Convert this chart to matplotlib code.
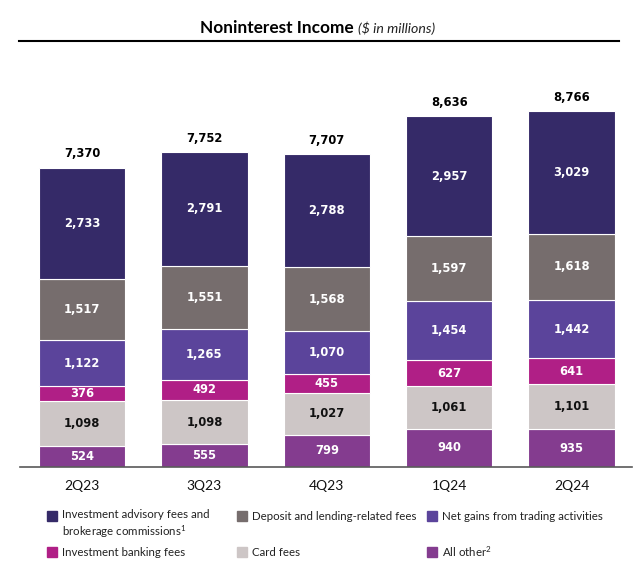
#!/usr/bin/env python3

import matplotlib.pyplot as plt
from matplotlib.lines import Line2D
from matplotlib.patches import Rectangle
import numpy as np

quarters = ["2Q23", "3Q23", "4Q23", "1Q24", "2Q24"]

# stacked bottom -> top
all_other = [524, 555, 799, 940, 935]
card_fees = [1098, 1098, 1027, 1061, 1101]
ib_fees = [376, 492, 455, 627, 641]
trading = [1122, 1265, 1070, 1454, 1442]
deposit = [1517, 1551, 1568, 1597, 1618]
advisory = [2733, 2791, 2788, 2957, 3029]
totals = [7370, 7752, 7707, 8636, 8766]

series = [all_other, card_fees, ib_fees, trading, deposit, advisory]
colors = ["#843c8f", "#cdc6c6", "#b01f86", "#5b449b", "#766d6d", "#352a68"]
text_colors = ["white", "#111111", "white", "white", "white", "white"]

plt.rcParams["mathtext.fontset"] = "custom"
plt.rcParams["mathtext.rm"] = "Lato"
plt.rcParams["mathtext.it"] = "Lato:italic"
plt.rcParams["mathtext.bf"] = "Lato:bold"

NUM_FONT = "DejaVu Sans"
TXT_FONT = "Lato"

fig = plt.figure(figsize=(6.4, 5.7), dpi=100)
ax = fig.add_axes([20 / 640, (570 - 467) / 570, 612 / 640, 407 / 570])

x = np.arange(len(quarters))
bottom = np.zeros(len(quarters))
for vals, color, tcol in zip(series, colors, text_colors):
    vals = np.array(vals)
    ax.bar(x, vals, width=0.707, bottom=bottom, color=color,
           edgecolor="white", linewidth=0.8)
    for xi, b, v in zip(x, bottom, vals):
        ax.text(xi, b + v / 2, f"{v:,}", ha="center", va="center",
                color=tcol, fontsize=8.3, fontweight="bold", family=NUM_FONT)
    bottom += vals

for xi, t in zip(x, totals):
    ax.annotate(f"{t:,}", (xi, t), xytext=(0, 10), textcoords="offset points",
                ha="center", va="center", fontsize=8.3, fontweight="bold",
                family=NUM_FONT, color="black")

ax.set_xlim(-0.5065, 4.494)
ax.set_ylim(0, 10025)
for s in ["top", "right", "left"]:
    ax.spines[s].set_visible(False)
ax.spines["bottom"].set_color("#595959")
ax.spines["bottom"].set_linewidth(1.2)
ax.set_yticks([])
ax.set_xticks(x)
ax.set_xticklabels(quarters, fontsize=10, family=TXT_FONT, color="#111111")
ax.tick_params(axis="x", length=0, pad=9)

# title
fig.text(200 / 640, (570 - 33) / 570, "Noninterest Income", fontsize=12.4,
         fontweight="bold", family=TXT_FONT, va="baseline", ha="left")
fig.text(358 / 640, (570 - 33) / 570, "($ in millions)", fontsize=10.2,
         style="italic", family=TXT_FONT, va="baseline", ha="left", color="#222222")
fig.add_artist(Line2D([19 / 640, 619 / 640], [(570 - 40.5) / 570] * 2,
                      transform=fig.transFigure, color="black", lw=1.5))

# legend
legend_items = [
    ("Investment advisory fees and\nbrokerage commissions$^{1}$", colors[5], 47, 516),
    ("Deposit and lending-related fees", colors[4], 237, 516),
    ("Net gains from trading activities", colors[3], 427, 516),
    ("Investment banking fees", colors[2], 47, 552),
    ("Card fees", colors[1], 237, 552),
    ("All other$^{2}$", colors[0], 427, 552),
]
for label, color, px, py in legend_items:
    fig.add_artist(Rectangle((px / 640, (570 - py - 5) / 570), 10 / 640, 10 / 570,
                             transform=fig.transFigure, color=color))
    if "\n" in label:
        fig.text((px + 15) / 640, (570 - py + 7) / 570, label, fontsize=8.3,
                 family=TXT_FONT, va="top", ha="left", color="#222222",
                 linespacing=1.25)
    else:
        fig.text((px + 15) / 640, (570 - py) / 570, label, fontsize=8.3,
                 family=TXT_FONT, va="center", ha="left", color="#222222")

fig.savefig("out.png", dpi=100)
